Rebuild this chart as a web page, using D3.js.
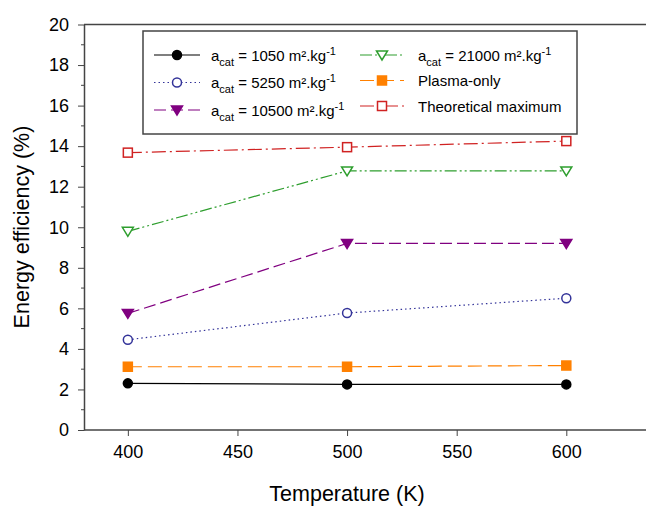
<!DOCTYPE html>
<html>
<head>
<meta charset="utf-8">
<script src="https://cdn.jsdelivr.net/npm/d3@7"></script>
<style>
  body { margin: 0; background: #fff; }
  svg { font-family: Arial, "Liberation Sans", sans-serif; }
</style>
</head>
<body>
<svg id="chart" width="646" height="506"></svg>
<script>
// values
const temps = [400, 500, 600];
const acat1050 = [2.3, 2.25, 2.25];
const acat5250 = [4.45, 5.77, 6.5];
const acat10500 = [5.75, 9.2, 9.2];
const acat21000 = [9.8, 12.78, 12.78];
const plasmaOnly = [3.12, 3.12, 3.18];
const theoMax = [13.68, 13.95, 14.25];

const xTicks = [400, 450, 500, 550, 600];
const yTicks = [0, 2, 4, 6, 8, 10, 12, 14, 16, 18, 20];

const series = [
  { name: "1050", values: acat1050, color: "#000000", dash: null, marker: "circle", fill: true, col: 0, row: 0 },
  { name: "5250", values: acat5250, color: "#333399", dash: "1.5,3", marker: "circle", fill: false, col: 0, row: 1 },
  { name: "10500", values: acat10500, color: "#800080", dash: "12,5", marker: "triangle", fill: true, col: 0, row: 2 },
  { name: "21000", values: acat21000, color: "#2e9e2e", dash: "12,3,2,3,2,3", marker: "triangle", fill: false, col: 1, row: 0 },
  { name: "Plasma-only", values: plasmaOnly, color: "#ff8000", dash: "14,6", marker: "square", fill: true, col: 1, row: 1 },
  { name: "Theoretical maximum", values: theoMax, color: "#d02222", dash: "14,4,2,4", marker: "square", fill: false, col: 1, row: 2 }
];

const svg = d3.select("#chart");
const x = d3.scaleLinear().domain([380, 640]).range([84, 654]);
const y = d3.scaleLinear().domain([0, 20]).range([430, 24.5]);

// frame (right side runs off the picture)
svg.append("line").attr("x1", 84).attr("x2", 646).attr("y1", y(20)).attr("y2", y(20))
  .attr("stroke", "#444").attr("stroke-width", 1.5);

const gx = svg.append("g").attr("transform", "translate(0,430)")
  .call(d3.axisBottom(x).tickValues(xTicks).tickSize(6).tickPadding(9).tickSizeOuter(0));
const gy = svg.append("g").attr("transform", "translate(84,0)")
  .call(d3.axisLeft(y).tickValues(yTicks).tickSize(6).tickPadding(9).tickSizeOuter(0));
// minor ticks on y
gy.selectAll(".minor").data(d3.range(1, 20, 2)).enter().append("line")
  .attr("x1", -3).attr("x2", 0).attr("y1", d => y(d)).attr("y2", d => y(d))
  .attr("stroke", "#444").attr("stroke-width", 1);

[gx, gy].forEach(g => {
  g.select(".domain").attr("stroke", "#444").attr("stroke-width", 1.5);
  g.selectAll(".tick line").attr("stroke", "#444").attr("stroke-width", 1);
  g.selectAll(".tick text").attr("font-size", 18).attr("fill", "#000")
    .attr("font-family", "Arial, 'Liberation Sans', sans-serif");
});
gx.select(".domain").attr("d", "M84,0H646");

svg.append("text").attr("x", 347).attr("y", 501).attr("text-anchor", "middle")
  .attr("font-size", 21.5).text("Temperature (K)");
svg.append("text").attr("transform", "translate(29,227) rotate(-90)").attr("text-anchor", "middle")
  .attr("font-size", 21.5).text("Energy efficiency (%)");

function drawMarker(g, s, cx, cy) {
  const fill = s.fill ? s.color : "#fff";
  if (s.marker === "circle") {
    g.append("circle").attr("cx", cx).attr("cy", cy).attr("r", 4.5)
      .attr("fill", fill).attr("stroke", s.color).attr("stroke-width", 1.5);
  } else if (s.marker === "square") {
    g.append("rect").attr("x", cx - 4.5).attr("y", cy - 4.5).attr("width", 9).attr("height", 9)
      .attr("fill", fill).attr("stroke", s.color).attr("stroke-width", 1.5);
  } else {
    g.append("path").attr("d", `M${cx - 5.5},${cy - 4}L${cx + 5.5},${cy - 4}L${cx},${cy + 5}Z`)
      .attr("fill", fill).attr("stroke", s.color).attr("stroke-width", 1.5);
  }
}

const line = d3.line().x((d, i) => x(temps[i])).y(d => y(d));
series.forEach(s => {
  svg.append("path").datum(s.values).attr("d", line)
    .attr("fill", "none").attr("stroke", s.color).attr("stroke-width", 1.2)
    .attr("stroke-dasharray", s.dash);
  const g = svg.append("g");
  s.values.forEach((v, i) => drawMarker(g, s, x(temps[i]), y(v)));
});

// legend
svg.append("rect").attr("x", 143).attr("y", 31).attr("width", 434).attr("height", 103)
  .attr("fill", "#fff").attr("stroke", "#444").attr("stroke-width", 1.5);
const colX = [[154, 200, 211], [360, 404, 418]];
const rowY = [[55, 82.5, 110], [55, 80.5, 106]];
series.forEach(s => {
  const [x1, x2, tx] = colX[s.col];
  const ly = rowY[s.col][s.row];
  const g = svg.append("g");
  g.append("line").attr("x1", x1).attr("x2", x2).attr("y1", ly).attr("y2", ly)
    .attr("stroke", s.color).attr("stroke-width", 1.2).attr("stroke-dasharray", s.dash);
  drawMarker(g, s, (x1 + x2) / 2, ly);
  const t = g.append("text").attr("x", tx).attr("y", ly + 5.5).attr("font-size", 15);
  if (/^\d+$/.test(s.name)) {
    t.append("tspan").text("a");
    t.append("tspan").attr("font-size", 11).attr("dy", 5).text("cat");
    t.append("tspan").attr("dy", -5).text(" = " + s.name + " m².kg");
    t.append("tspan").attr("font-size", 11).attr("dy", -6).text("-1");
  } else {
    t.text(s.name);
  }
});
</script>
</body>
</html>
